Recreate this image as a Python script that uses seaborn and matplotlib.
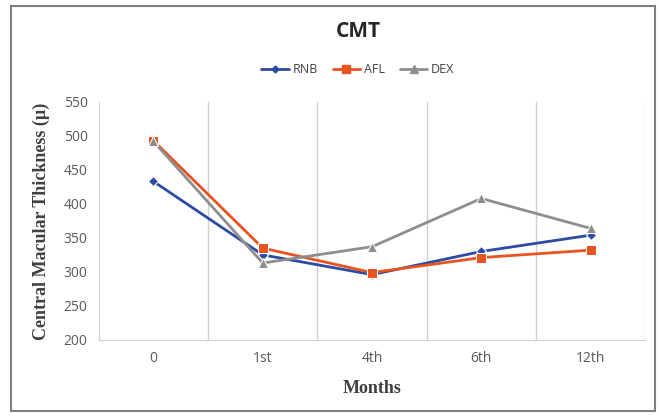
import matplotlib
matplotlib.use("Agg")
import matplotlib.pyplot as plt
import seaborn as sns
import pandas as pd
from matplotlib.patches import Rectangle

months = ["0", "1st", "4th", "6th", "12th"]
rnb = [433, 325, 296, 330, 354]
afl = [493, 335, 299, 321, 332]
dex = [492, 313, 337, 408, 364]

df = pd.DataFrame({
    "month": months * 3,
    "cmt": rnb + afl + dex,
    "group": ["RNB"] * 5 + ["AFL"] * 5 + ["DEX"] * 5,
})
df["pos"] = df["month"].map({m: i for i, m in enumerate(months)})

sns.set_style("white")
plt.rcParams["font.family"] = ["Open Sans", "DejaVu Sans"]
palette = {"RNB": "#2B4BA5", "AFL": "#E8531F", "DEX": "#8E8E8E"}
markers = {"RNB": "D", "AFL": "s", "DEX": "^"}
sizes = {"RNB": 5, "AFL": 7.5, "DEX": 7.5}

fig = plt.figure(figsize=(6.59, 4.16), dpi=100)
ax = fig.add_axes([0.150, 0.183, 0.829, 0.572])

sns.lineplot(data=df, x="pos", y="cmt", hue="group", style="group",
             palette=palette, markers=markers, dashes=False,
             linewidth=2, markersize=7, ax=ax, legend=False)
for line, g in zip(ax.lines, ["RNB", "AFL", "DEX"]):
    line.set_markersize(sizes[g])

ax.set_xlim(-0.5, 4.5)
ax.set_ylim(200, 550)
ax.set_yticks(range(200, 551, 50))
ax.set_xticks(range(len(months)))
ax.set_xticklabels(months)
ax.tick_params(axis="both", colors="#595959", labelsize=10, length=0, pad=8)
for x in [0.5, 1.5, 2.5, 3.5, 4.5]:
    ax.axvline(x, color="#D0D0D0", linewidth=1, zorder=0)
for s in ["top", "right"]:
    ax.spines[s].set_visible(False)
ax.spines["left"].set_color("#D0D0D0")
ax.spines["bottom"].set_color("#D0D0D0")

ax.set_xlabel("Months", family="Liberation Serif", fontweight="bold", fontsize=13,
              color="#404040", labelpad=10)
ax.set_ylabel("Central Macular Thickness (\u00b5)", family="Liberation Serif",
              fontweight="bold", fontsize=13, color="#404040", labelpad=10)

fig.text(0.543, 0.925, "CMT", ha="center", va="center", fontsize=15,
         fontweight="bold", color="#262626")

handles = [plt.Line2D([], [], color=palette[g], marker=markers[g],
                      markersize=sizes[g] - 1.5, linewidth=2) for g in palette]
fig.legend(handles, list(palette), loc="center", bbox_to_anchor=(0.543, 0.833),
           ncol=3, frameon=False, fontsize=9, handlelength=2.2,
           columnspacing=1.2, handletextpad=0.3, labelcolor="#404040")

fig.patches.append(Rectangle((0.017, 0.012), 0.977, 0.974, transform=fig.transFigure,
                             fill=False, edgecolor="#7F7F7F", linewidth=1.5))

fig.savefig("out.png", dpi=100)
